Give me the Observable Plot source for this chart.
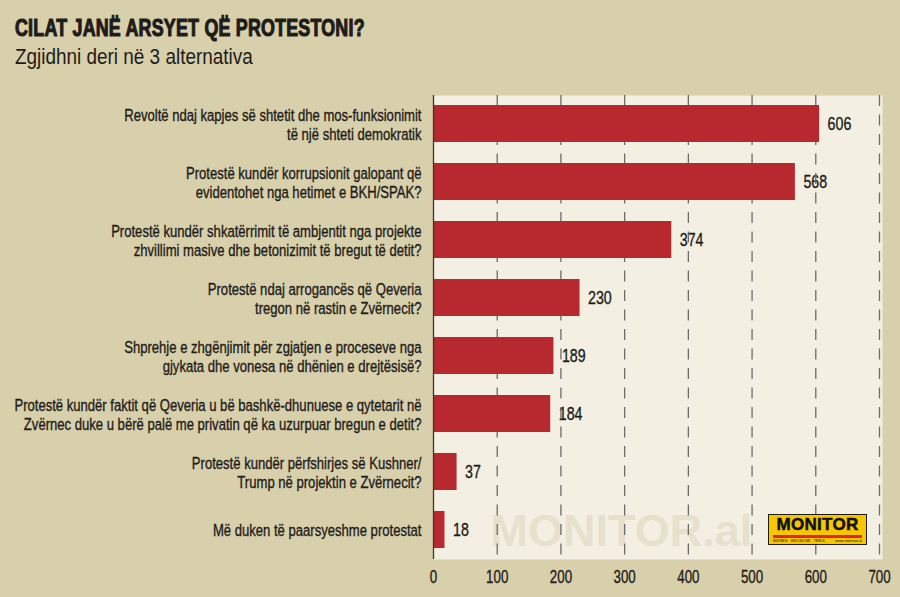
<!DOCTYPE html>
<html>
<head>
<meta charset="utf-8">
<script src="https://cdn.jsdelivr.net/npm/d3@7"></script>
<script src="https://cdn.jsdelivr.net/npm/@observablehq/plot@0.6"></script>
<style>
  body { margin: 0; background: #d8cfab; }
  #wrap { position: relative; width: 900px; height: 597px; overflow: hidden; background: #d8cfab;
          font-family: "Liberation Sans Narrow", "Liberation Sans", Arial, sans-serif; color: #1e1c1a; }
  .title { position: absolute; left: 15px; white-space: nowrap; transform-origin: 0 0; line-height: 1; }
  #t1 { top: 17px; font-size: 23px; font-weight: 700; -webkit-text-stroke: 1.1px #1e1c1a; letter-spacing: 0.3px; transform: scaleX(0.775); }
  #t2 { top: 46px; font-size: 22px; transform: scaleX(0.86); }
  #chart { position: absolute; left: 0; top: 80px; }
  .ylab text, .vlabel text, .xlab text { stroke: #1e1c1a; stroke-width: 0.35px; }
  #logo { position: absolute; left: 768px; top: 514px; width: 97px; height: 29px; background: #f7c600;
          border: 1.5px solid #1e1c1a; box-sizing: content-box; font-family: "Liberation Sans", Arial, sans-serif; }
  #logo .name { position: absolute; left: 0; right: 0; top: 1px; text-align: center; font-size: 17px; font-weight: 700;
          letter-spacing: 0.3px; -webkit-text-stroke: 0.5px #111; color: #111; line-height: 1; }
  #logo .stripe { position: absolute; left: 4px; right: 4px; top: 20px; height: 3px; background: #e2242b; }
  #logo .tag { position: absolute; left: 4px; right: 4px; top: 24px; font-size: 4px; line-height: 1; color: #111;
          display: flex; justify-content: space-between; }
</style>
</head>
<body>
<div id="wrap">
  <div class="title" id="t1">CILAT JANË ARSYET QË PROTESTONI?</div>
  <div class="title" id="t2">Zgjidhni deri në 3 alternativa</div>
  <div id="chart"></div>
  <div id="logo">
    <div class="name">MONITOR</div>
    <div class="stripe"></div>
    <div class="tag"><span>BIZNES · EKONOMI · TREG</span><span>www.monitor.al</span></div>
  </div>
</div>
<script>
// Answers to the survey question, top to bottom
const reasons = [
  "Revoltë ndaj kapjes së shtetit dhe mos-funksionimit\ntë një shteti demokratik",
  "Protestë kundër korrupsionit galopant që\nevidentohet nga hetimet e BKH/SPAK?",
  "Protestë kundër shkatërrimit të ambjentit nga projekte\nzhvillimi masive dhe betonizimit të bregut të detit?",
  "Protestë ndaj arrogancës që Qeveria\ntregon në rastin e Zvërnecit?",
  "Shprehje e zhgënjimit për zgjatjen e proceseve nga\ngjykata dhe vonesa në dhënien e drejtësisë?",
  "Protestë kundër faktit që Qeveria u bë bashkë-dhunuese e qytetarit në\nZvërnec duke u bërë palë me privatin që ka uzurpuar bregun e detit?",
  "Protestë kundër përfshirjes së Kushner/\nTrump në projektin e Zvërnecit?",
  "Më duken të paarsyeshme protestat"
];
// Number of respondents choosing each answer
const counts = [606, 568, 374, 230, 189, 184, 37, 18];
// Horizontal axis ticks
const xTicks = [0, 100, 200, 300, 400, 500, 600, 700];

const rows = reasons.map((reason, i) => ({reason, count: counts[i]}));

const font = '"Liberation Sans Narrow", "Liberation Sans", Arial, sans-serif';
const ink = "#1e1c1a";

const chart = Plot.plot({
  width: 900,
  height: 517,
  marginLeft: 433,
  marginRight: 21,
  marginTop: 15,
  marginBottom: 38,
  style: {background: "transparent", fontFamily: font, fontSize: "17px", color: ink},
  x: {domain: [0, 700], label: null},
  y: {domain: reasons, paddingInner: 0.36, paddingOuter: 0.18, label: null},
  marks: [
    Plot.frame({fill: "#f3f0e3", stroke: null, insetRight: -3}),
    Plot.text(["MONITOR.al"], {
      frameAnchor: "bottom-left", dx: 57, dy: -14, lineAnchor: "bottom", textAnchor: "start",
      fontSize: 45, fontWeight: 700, fill: "#e6e0cc", fontFamily: '"Liberation Sans", Arial, sans-serif'
    }),
    Plot.text(rows, {
      x: "count", y: "reason", text: d => String(d.count), textAnchor: "start", dx: 8,
      fontSize: 18, fill: ink, className: "vlabel"
    }),
    Plot.gridX(xTicks.filter(d => d > 0), {
      stroke: "#6b6b6b", strokeOpacity: 1, strokeWidth: 1.3, strokeDasharray: "11,8.5"
    }),
    Plot.barX(rows, {x: "count", y: "reason", fill: "#b8282f"}),
    Plot.ruleX([0], {stroke: "#3a3632", strokeWidth: 1.3}),
    Plot.axisX(xTicks, {tickSize: 0, tickPadding: 10, fontSize: 18.5, fill: ink, className: "xlab", label: null}),
    Plot.axisY({tickSize: 0, tickPadding: 12, fontSize: 17, lineHeight: 1.12, fill: ink, className: "ylab", label: null})
  ]
});
document.getElementById("chart").append(chart);

// Narrow the label type horizontally around each label's own anchor point
function condense(selector, k) {
  chart.querySelectorAll(selector).forEach(t => {
    const tr = t.getAttribute("transform") || "";
    t.setAttribute("transform", `${tr} scale(${k},1)`);
  });
}
condense(".ylab text", 0.77);
condense(".xlab text", 0.72);
condense(".vlabel text", 0.79);
</script>
</body>
</html>
